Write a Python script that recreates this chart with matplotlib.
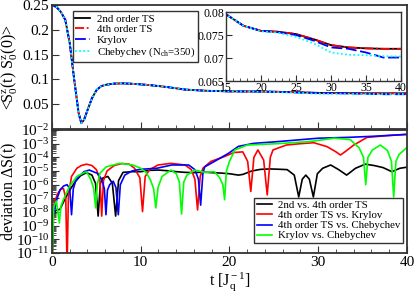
import numpy as np
import matplotlib
matplotlib.use("Agg")
import matplotlib.pyplot as plt
from matplotlib.ticker import MultipleLocator, LogLocator, NullFormatter

plt.rcParams['font.family'] = ['Liberation Serif', 'DejaVu Serif']
plt.rcParams['mathtext.fontset'] = 'custom'
plt.rcParams['mathtext.rm'] = 'Liberation Serif'
plt.rcParams['mathtext.it'] = 'Liberation Serif:italic'

# --- autocorrelation <S(t)S(0)> : common part (all methods agree) ---
t_early = [0, 0.5, 1.0, 1.5, 2.0, 2.5, 3.0, 3.3, 3.6, 4.0, 4.5, 5.0, 5.5, 6.0,
           7.0, 8.0, 9.0, 10, 11, 12, 13, 14]
s_early = [0.250, 0.246, 0.236, 0.220, 0.173, 0.100, 0.032, 0.012, 0.018, 0.038,
           0.062, 0.078, 0.086, 0.089, 0.0915, 0.0920, 0.0912, 0.0900, 0.0885,
           0.0866, 0.0845, 0.0820]

# late part, per method (t = 15..40)
t_late = [15, 17.5, 20, 22.5, 25, 27.5, 30, 32.5, 35, 37.5, 40]
s_ts2 = [0.0795, 0.0770, 0.0759, 0.0757, 0.0752, 0.0741, 0.0728, 0.0723, 0.0721, 0.0720, 0.0720]
s_ts4 = [0.0795, 0.0770, 0.0759, 0.0757, 0.0752, 0.0741, 0.0728, 0.0723, 0.0721, 0.0720, 0.0720]
s_kry = [0.0795, 0.0770, 0.0759, 0.0756, 0.0750, 0.0738, 0.0723, 0.0720, 0.0712, 0.0701, 0.0701]
s_che = [0.0795, 0.0770, 0.0758, 0.0755, 0.0746, 0.0732, 0.0712, 0.0707, 0.0706, 0.0704, 0.0703]

# --- deviations, log10 values ---
t_bk = [0, 0.1, 0.4, 0.9, 1.5, 2.0, 2.6, 3.2, 3.9, 4.5, 4.9, 5.2, 5.45, 5.75, 6.3, 6.8,
        7.17, 7.5, 8.0, 9, 10, 11, 12, 13, 14, 15, 16, 17, 18, 19, 20, 21, 21.5, 22.5,
        23.5, 24.5, 25.5, 26.5, 27.3, 27.8, 28.2, 28.6, 29.0, 29.45, 29.9, 30.5, 31.4,
        32.3, 33.2, 34.2, 35.3, 36.3, 37.3, 38.3, 39.2, 40]
d_bk = [-12, -8.3, -7.9, -7.8, -7.0, -6.4, -5.8, -5.35, -5.12, -5.3, -5.9, -8.3, -5.9,
        -5.5, -5.4, -5.9, -8.3, -5.7, -5.1, -5.05, -5.05, -4.95, -4.93, -4.98, -5.05,
        -5.1, -5.12, -5.08, -5.12, -5.15, -5.2, -5.3, -5.25, -5.0, -4.88, -4.85, -4.87,
        -4.9, -5.3, -6.9, -5.6, -5.3, -5.6, -6.9, -5.2, -4.8, -4.56, -4.9, -5.3, -4.8,
        -4.5, -4.6, -4.75, -5.05, -4.8, -4.72]

t_rd = [0, 0.2, 0.6, 1.0, 1.3, 1.55, 1.7, 1.85, 2.2, 2.8, 3.3, 3.9, 4.5, 5.0, 5.4, 5.6,
        5.8, 6.2, 7.0, 7.9, 8.7, 9.3, 9.9, 10.2, 10.5, 11.0, 11.95, 13.4, 15.0, 15.7,
        16.1, 16.4, 16.7, 17.0, 17.9, 19.4, 20.5, 21.5, 22.05, 22.4, 22.75, 23.2, 23.85,
        24.25, 24.6, 24.9, 26.4, 28.0, 29.5, 31.0, 32.0, 32.5, 33.0, 34.0, 35.5, 37.8, 40]
d_rd = [-12, -7.5, -6.7, -6.3, -6.3, -7.0, -12, -6.8, -5.4, -4.8, -4.6, -4.5, -4.6, -4.9,
        -5.6, -8.3, -5.7, -5.0, -4.6, -4.45, -4.5, -4.8, -5.5, -7.97, -5.4, -4.9, -4.56,
        -4.44, -4.56, -4.9, -5.6, -7.85, -5.4, -4.8, -4.3, -3.95, -3.65, -3.6, -4.3, -6.5,
        -4.0, -3.46, -4.2, -6.75, -4.0, -3.46, -3.1, -3.0, -2.93, -3.22, -3.6, -3.83,
        -3.6, -3.1, -2.54, -2.41, -2.32]

t_bl = [0, 0.1, 0.53, 0.9, 1.3, 1.7, 2.0, 2.2, 2.4, 2.7, 3.6, 4.2, 5.1, 5.6, 5.9, 6.08,
        6.25, 6.5, 6.9, 7.2, 7.47, 7.7, 8.2, 9.0, 9.9, 11.8, 13.5, 15.4, 16.1, 16.5,
        16.75, 17.0, 17.2, 18.3, 19.9, 21.0, 22.7, 25.4, 30.0, 33.3, 36.5, 40]
d_bl = [-12, -8.5, -7.1, -6.4, -6.1, -6.0, -6.3, -8.2, -6.3, -5.66, -5.05, -4.93, -5.17,
        -5.6, -6.3, -8.2, -6.4, -6.0, -5.75, -6.2, -8.2, -6.0, -5.3, -5.0, -4.88, -4.8,
        -4.56, -4.56, -4.9, -5.6, -7.5, -5.2, -4.7, -4.3, -3.7, -3.2, -2.98, -2.85, -2.6,
        -2.54, -2.45, -2.32]

t_gr = [0, 0.2, 0.5, 0.83, 1.0, 1.28, 2.0, 2.8, 3.5, 3.9, 4.4, 4.7, 4.92, 5.1, 5.4, 6.1,
        7.6, 9.1, 10.0, 10.6, 11.1, 11.45, 11.7, 11.95, 12.4, 13.4, 14.0, 14.35, 14.6,
        14.85, 15.2, 16.1, 17.2, 18.3, 18.9, 19.25, 19.45, 19.65, 20.0, 20.6, 22.0, 25.4,
        29.0, 31.8, 33.6, 34.6, 35.1, 35.35, 35.6, 36.1, 37.0, 37.8, 38.25, 38.5, 38.75,
        39.1, 39.9]
d_gr = [-12, -7.6, -7.2, -8.8, -7.6, -7.1, -6.1, -5.4, -5.15, -5.05, -5.66, -6.3, -7.7,
        -6.0, -5.17, -4.7, -4.44, -4.56, -4.8, -5.1, -5.66, -6.3, -7.7, -6.2, -5.4, -4.93,
        -5.2, -5.8, -8.15, -5.8, -5.3, -4.93, -5.1, -5.05, -5.5, -6.0, -7.1, -5.0, -4.3,
        -3.46, -3.1, -3.0, -2.85, -2.6, -2.7, -3.3, -4.0, -6.0, -4.0, -3.46, -3.1, -3.5,
        -4.3, -6.9, -4.3, -3.8, -3.33]

methods = ['2nd order TS', '4th order TS', 'Krylov', r'Chebychev (N$_{\rm ch}$=350)']
dev_labels = ['2nd vs. 4th order TS', '4th order TS vs. Krylov',
              '4th order TS vs. Chebychev', 'Krylov vs. Chebychev']

spine_c = '#333333'


def style_axes(ax, lw=1.3):
    for s in ax.spines.values():
        s.set_linewidth(lw)
        s.set_color(spine_c)
    ax.tick_params(which='both', direction='in', top=False, right=False, color=spine_c)


fig = plt.figure(figsize=(4.15, 2.95), dpi=100)
ax1 = fig.add_axes([0.1253, 0.5627, 0.8554, 0.4203])
ax2 = fig.add_axes([0.1253, 0.1424, 0.8554, 0.4169])

# upper panel
styles = [('black', '-'), ('red', (0, (5, 1.5, 1, 1.5))),
          ('blue', (0, (6, 2))), ('cyan', (0, (1, 1.3)))]
series = [s_ts2, s_ts4, s_kry, s_che]
for (c, ls), s, lab in zip(styles, series, methods):
    ax1.plot(t_early + t_late, s_early + s, color=c, ls=ls, lw=1.3, label=lab)
ax1.set_xlim(0, 40)
ax1.set_ylim(0, 0.25)
ax1.set_yticks([0.05, 0.1, 0.15, 0.2, 0.25])
ax1.set_yticklabels(['0.05', '0.1', '0.15', '0.2', '0.25'])
ax1.xaxis.set_major_locator(MultipleLocator(10))
ax1.xaxis.set_minor_locator(MultipleLocator(2))
ax1.tick_params(labelbottom=False, labelsize=11, pad=2)
ax1.tick_params(which='major', length=5)
ax1.tick_params(which='minor', length=3)
style_axes(ax1)
ax1.set_ylabel(r'<S$^{\rm z}_{\rm 0}$(t) S$^{\rm z}_{\rm 0}$(0)>', fontsize=11.5)
ax1.yaxis.set_label_coords(-0.092, 0.5)
leg1 = ax1.legend(loc='upper left', bbox_to_anchor=(0.058, 0.95), fontsize=7.8,
                  labelspacing=0.1, handlelength=1.4, handletextpad=0.6,
                  borderpad=0.25, fancybox=False, framealpha=1, borderaxespad=0)
leg1.get_frame().set_edgecolor(spine_c)
leg1.get_frame().set_linewidth(1.0)

# inset
axi = fig.add_axes([0.5446, 0.7254, 0.4217, 0.2339])
for (c, ls), s in zip(styles, series):
    axi.plot(t_early + t_late, s_early + s, color=c, ls=ls, lw=1.3)
axi.set_xlim(15, 40)
axi.set_ylim(0.065, 0.08)
axi.xaxis.set_major_locator(MultipleLocator(5))
axi.xaxis.set_minor_locator(MultipleLocator(1))
axi.set_yticks([0.065, 0.07, 0.075, 0.08])
axi.set_yticklabels(['0.065', '0.07', '0.075', '0.08'])
axi.tick_params(labelsize=8.5, pad=1)
axi.tick_params(which='major', length=4)
axi.tick_params(which='minor', length=2.5)
style_axes(axi, lw=1.0)

# lower panel
dev = [(t_bk, d_bk, 'black'), (t_rd, d_rd, 'red'), (t_bl, d_bl, 'blue'), (t_gr, d_gr, 'lime')]
for (t, d, c), lab in zip(dev, dev_labels):
    ax2.plot(t, 10.0 ** np.array(d), color=c, lw=1.2, label=lab)
ax2.set_yscale('log')
ax2.set_xlim(0, 40)
ax2.set_ylim(1e-11, 1e-2)
ax2.yaxis.set_major_locator(LogLocator(base=10, numticks=20))
ax2.yaxis.set_minor_locator(LogLocator(base=10, subs=np.arange(2, 10), numticks=20))
ax2.yaxis.set_minor_formatter(NullFormatter())
ax2.xaxis.set_major_locator(MultipleLocator(10))
ax2.xaxis.set_minor_locator(MultipleLocator(2))
ax2.tick_params(labelsize=11, pad=2)
ax2.tick_params(which='major', length=5)
ax2.tick_params(which='minor', length=3)
style_axes(ax2)
ax2.set_ylabel(r'deviation $\Delta$S(t)', fontsize=11.5)
ax2.yaxis.set_label_coords(-0.092, 0.5)
ax2.set_xlabel(r't [J$_{\rm q}^{\rm -1}$]', fontsize=11.5, labelpad=1)
leg2 = ax2.legend(loc='lower right', bbox_to_anchor=(0.99, 0.08), fontsize=7.8,
                  labelspacing=0.05, handlelength=1.4, handletextpad=0.6,
                  borderpad=0.25, fancybox=False, framealpha=1, borderaxespad=0)
leg2.get_frame().set_edgecolor(spine_c)
leg2.get_frame().set_linewidth(1.0)

fig.savefig('out.png', dpi=100)
